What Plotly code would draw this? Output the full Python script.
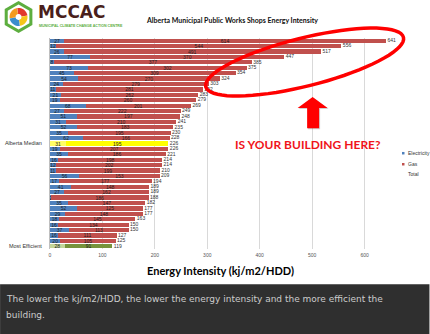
import plotly.graph_objects as go
import math

# ---------------- data ----------------
elec = [27, 12, 26, 77, 8, 73, 45, 54, 24, 11, 21, 19, 68, 27, 51, 31, 52, 35, 62, 31,
        19, 35, 16, 12, 11, 56, 17, 41, 27, 2, 35, 52, 29, 18, 16, 37, 16, 20, 28]
gas = [614, 544, 491, 370, 377, 302, 309, 270, 279, 281, 262, 260, 201, 222, 197, 210, 183, 195, 166, 195,
       207, 186, 198, 202, 199, 153, 177, 148, 162, 186, 147, 125, 148, 145, 134, 113, 111, 105, 91]
row_labels = [""] * 19 + ["Alberta Median"] + [""] * 18 + ["Most Efficient"]
x_ticks = [0, 100, 200, 300, 400, 500, 600]
totals = [e + g for e, g in zip(elec, gas)]
rows = list(range(len(elec)))

# ---------------- geometry ----------------
W, H = 430, 334
L, T, R, B = 50, 38, 33.5, 85.3
PW = W - L - R
PH = H - T - B


def fx(x):
    return (x - L) / PW


def fy(y):
    return 1 - (y - T) / PH


def path(points, close=True):
    s = "M " + " L ".join(f"{fx(x):.5f},{fy(y):.5f}" for x, y in points)
    return s + (" Z" if close else "")


# colours per bar
elec_col, gas_col = [], []
for lab in row_labels:
    if lab == "Alberta Median":
        elec_col.append("#FFFF66"); gas_col.append("#FFFF00")
    elif lab == "Most Efficient":
        elec_col.append("#C3D69B"); gas_col.append("#77933C")
    else:
        elec_col.append("#4F81BD"); gas_col.append("#C0504D")

lbl_font = dict(family="Liberation Sans", size=5, color="#222222")

fig = go.Figure()
fig.add_trace(go.Bar(
    y=rows, x=elec, orientation="h", name="Electricity",
    marker=dict(color=elec_col, line=dict(width=0)),
    text=[str(v) for v in elec], textposition="inside", insidetextanchor="middle",
    textangle=0, textfont=lbl_font, cliponaxis=False, constraintext="none"))
fig.add_trace(go.Bar(
    y=rows, x=gas, orientation="h", name="Gas",
    marker=dict(color=gas_col, line=dict(width=0)),
    text=[str(v) for v in gas], textposition="inside", insidetextanchor="middle",
    textangle=0, textfont=lbl_font, cliponaxis=False, constraintext="none"))
fig.add_trace(go.Scatter(
    y=rows, x=totals, mode="text", name="Total",
    text=[" " + str(v) for v in totals], textposition="middle right",
    textfont=dict(family="Liberation Sans", size=5, color="#333333"), cliponaxis=False))

shapes = []
annos = []

# footer band
shapes.append(dict(type="rect", xref="paper", yref="paper", x0=fx(0), x1=fx(W), y0=fy(284), y1=fy(H + 2),
                   fillcolor="#2f2f2f", line=dict(width=0), layer="above"))
annos.append(dict(xref="paper", yref="paper", x=fx(4), y=fy(299), xanchor="left", yanchor="middle",
                  text="The lower the kj/m2/HDD, the lower the energy intensity and the more efficient the",
                  showarrow=False, font=dict(family="DejaVu Sans", size=9, color="#cccccc")))
annos.append(dict(xref="paper", yref="paper", x=fx(4), y=fy(315), xanchor="left", yanchor="middle",
                  text="building.", showarrow=False, font=dict(family="DejaVu Sans", size=9, color="#cccccc")))

# x axis title
annos.append(dict(xref="paper", yref="paper", x=fx(221), y=fy(270), xanchor="center", yanchor="middle",
                  text="<b>Energy Intensity (kj/m2/HDD)</b>", showarrow=False,
                  font=dict(family="Lato", size=11, color="#000000")))
# chart title
annos.append(dict(xref="paper", yref="paper", x=fx(144), y=fy(20), xanchor="left", yanchor="middle",
                  text="<b>Alberta Municipal Public Works Shops Energy Intensity</b>", showarrow=False,
                  font=dict(family="Lato", size=7, color="#111111")))

# logo: hexagon + swirl
cx, cy = 18.5, 17
hexo = [(cx + 16 * math.cos(math.radians(90 + 60 * k)), cy - 16 * math.sin(math.radians(90 + 60 * k))) for k in range(6)]
hexi = [(cx + 12.5 * math.cos(math.radians(90 + 60 * k)), cy - 12.5 * math.sin(math.radians(90 + 60 * k))) for k in range(6)]
shapes.append(dict(type="path", xref="paper", yref="paper", path=path(hexo), fillcolor="#5DAE3F", line=dict(width=0), layer="above"))
shapes.append(dict(type="path", xref="paper", yref="paper", path=path(hexi), fillcolor="#ffffff", line=dict(width=0), layer="above"))
wedges = [(90, 180, "#F39A1E"), (0, 90, "#E2382B"), (270, 360, "#F6C619"), (180, 270, "#3A8DCC")]
for a0, a1, col in wedges:
    pts = [(cx, cy)] + [(cx + 9 * math.cos(math.radians(a)), cy - 9 * math.sin(math.radians(a)))
                        for a in range(a0 + 10, a1 + 11, 8)]
    shapes.append(dict(type="path", xref="paper", yref="paper", path=path(pts), fillcolor=col, line=dict(width=0), layer="above"))
inner = [(cx + 3 * math.cos(math.radians(a)), cy - 3 * math.sin(math.radians(a))) for a in range(0, 360, 30)]
shapes.append(dict(type="path", xref="paper", yref="paper", path=path(inner), fillcolor="#ffffff", line=dict(width=0), layer="above"))
annos.append(dict(xref="paper", yref="paper", x=fx(37), y=fy(12.5), xanchor="left", yanchor="middle",
                  text="<b>MCCAC</b>", showarrow=False, borderpad=0,
                  font=dict(family="DejaVu Sans", size=17, color="#4A1F1C")))
annos.append(dict(xref="paper", yref="paper", x=fx(38), y=fy(26), xanchor="left", yanchor="middle",
                  text="<b>MUNICIPAL CLIMATE CHANGE ACTION CENTRE</b>", showarrow=False, borderpad=0,
                  font=dict(family="Liberation Sans", size=3.6, color="#5DAE3F")))

# red ellipse
ecx, ecy, ea, eb, th = 305, 62, 102, 24, math.radians(-14)
ell = []
for k in range(73):
    t = 2 * math.pi * k / 72
    x = ea * math.cos(t); y = eb * math.sin(t)
    ell.append((ecx + x * math.cos(th) - y * math.sin(th), ecy + x * math.sin(th) + y * math.cos(th)))
shapes.append(dict(type="path", xref="paper", yref="paper", path=path(ell), line=dict(color="#FF0000", width=3.5), layer="above"))

# red arrow
arrow = [(313, 97), (328, 108), (319.5, 108), (319.5, 128), (307.5, 128), (307.5, 108), (298, 108)]
shapes.append(dict(type="path", xref="paper", yref="paper", path=path([(x + 1, y + 1) for x, y in arrow]),
                   fillcolor="rgba(120,120,120,0.35)", line=dict(width=0), layer="above"))
shapes.append(dict(type="path", xref="paper", yref="paper", path=path(arrow), fillcolor="#FF0000", line=dict(width=0), layer="above"))
annos.append(dict(xref="paper", yref="paper", x=fx(308), y=fy(144), xanchor="center", yanchor="middle",
                  text="<b>IS YOUR BUILDING HERE?</b>", showarrow=False,
                  font=dict(family="Lato", size=12, color="#F0141A")))

# manual legend
leg = [("Electricity", "#4F81BD", 153), ("Gas", "#C0504D", 164), ("Total", None, 174)]
for name, col, yy in leg:
    if col:
        shapes.append(dict(type="rect", xref="paper", yref="paper", x0=fx(402.5), x1=fx(405),
                           y0=fy(yy - 1.2), y1=fy(yy + 1.3), fillcolor=col, line=dict(width=0), layer="above"))
    annos.append(dict(xref="paper", yref="paper", x=fx(406.5), y=fy(yy), xanchor="left", yanchor="middle",
                      text=name, showarrow=False, font=dict(family="Liberation Sans", size=5, color="#333333")))

fig.update_layout(
    width=W, height=H, margin=dict(l=L, r=R, t=T, b=B, autoexpand=False),
    paper_bgcolor="#ffffff", plot_bgcolor="#ffffff",
    barmode="stack", bargap=0.22, showlegend=False,
    uniformtext=dict(minsize=5, mode="show"),
    shapes=shapes, annotations=annos,
    xaxis=dict(range=[0, 660], tickvals=x_ticks, ticktext=[str(v) for v in x_ticks],
               showgrid=True, gridcolor="#d9d9d9", gridwidth=1, zeroline=False,
               showline=False, ticks="", tickfont=dict(family="Liberation Sans", size=5, color="#555555"),
               ticklabelstandoff=2),
    yaxis=dict(range=[len(rows) - 0.5, -0.5], tickvals=rows, ticktext=row_labels,
               showgrid=False, zeroline=False, showline=True, linecolor="#bfbfbf", linewidth=1,
               ticks="", tickfont=dict(family="Liberation Sans", size=5.5, color="#333333"),
               ticklabelstandoff=6),
    font=dict(family="Liberation Sans"),
    hovermode=False,
)

fig.write_html("out.html")
